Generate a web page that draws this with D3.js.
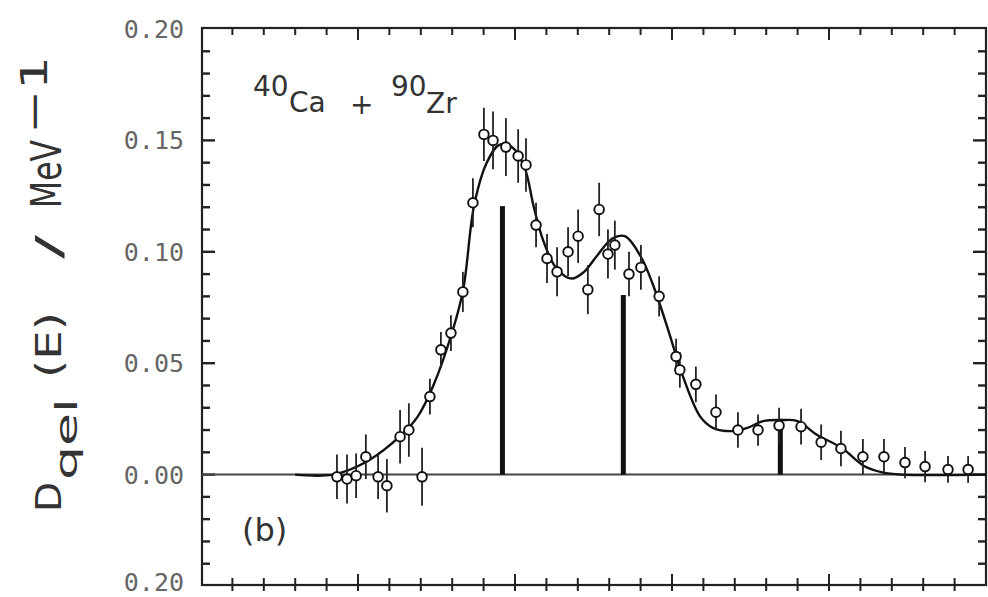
<!DOCTYPE html>
<html>
<head>
	<meta charset="utf-8">
	<title>Dqel(E) 40Ca + 90Zr</title>
	<script src="https://cdn.jsdelivr.net/npm/d3@7"></script>
	<style>
		body { margin: 0; background: #fff; }
		.tick-label { font-family: "DejaVu Sans Mono"; font-size: 25px; fill: #666; }
		.ann { font-family: "DejaVu Sans"; fill: #333; }
	</style>
</head>
<body>
<div id="chart"></div>
<script>
	// measured points: energy (MeV), Dqel, error
	var energy = [89.33, 89.65, 89.94, 90.25, 90.64, 90.92, 91.34, 91.62, 92.04, 92.29,
		92.64, 92.96, 93.34, 93.66, 94.01, 94.30, 94.71, 95.10, 95.35, 95.67,
		96.02, 96.34, 96.69, 97.01, 97.32, 97.68, 97.96, 98.18, 98.63, 99.01,
		99.59, 100.13, 100.25, 100.76, 101.40, 102.10, 102.74, 103.41, 104.11, 104.75,
		105.38, 106.08, 106.75, 107.42, 108.06, 108.79, 109.43];
	var dqel = [-0.001, -0.002, -0.0005, 0.008, -0.001, -0.005, 0.017, 0.020, -0.001, 0.035,
		0.056, 0.0635, 0.082, 0.122, 0.1527, 0.150, 0.147, 0.143, 0.139, 0.112,
		0.097, 0.091, 0.100, 0.107, 0.083, 0.119, 0.099, 0.103, 0.090, 0.093,
		0.080, 0.053, 0.047, 0.0405, 0.028, 0.020, 0.020, 0.022, 0.0215, 0.0145,
		0.0117, 0.008, 0.008, 0.0054, 0.0036, 0.0023, 0.0023];
	var dqelErr = [0.010, 0.011, 0.010, 0.010, 0.010, 0.012, 0.012, 0.012, 0.013, 0.008,
		0.008, 0.008, 0.009, 0.011, 0.012, 0.013, 0.013, 0.012, 0.012, 0.010,
		0.011, 0.011, 0.011, 0.012, 0.011, 0.012, 0.011, 0.011, 0.010, 0.010,
		0.009, 0.008, 0.008, 0.008, 0.008, 0.008, 0.007, 0.008, 0.008, 0.008,
		0.008, 0.008, 0.008, 0.007, 0.007, 0.006, 0.006];

	// calculated curve
	var fitE = [88.0, 89.2, 90.3, 91.4, 91.9, 92.4, 93.0, 93.35, 93.7, 94.1,
		94.5, 94.9, 95.3, 95.6, 95.9, 96.3, 96.8, 97.2, 97.6, 98.1,
		98.5, 99.0, 99.4, 99.9, 100.3, 100.9, 101.3, 101.9, 102.4, 102.9,
		103.5, 104.0, 104.6, 105.4, 106.1, 106.7, 107.3, 110.0];
	var fitD = [0.0, 0.0, 0.006, 0.018, 0.026, 0.040, 0.064, 0.083, 0.121, 0.140,
		0.148, 0.147, 0.138, 0.120, 0.105, 0.093, 0.088, 0.091, 0.098, 0.106,
		0.107, 0.098, 0.085, 0.064, 0.046, 0.026, 0.021, 0.0195, 0.021, 0.024,
		0.0245, 0.024, 0.018, 0.012, 0.004, 0.001, 0.0, 0.0];

	// barrier weights (sticks)
	var barE = [94.6, 98.45, 103.45];
	var barH = [0.1205, 0.0806, 0.025];

	var yTickValues = [0.20, 0.15, 0.10, 0.05, 0.00, -0.05];
	var yTickLabels = ["0.20", "0.15", "0.10", "0.05", "0.00", "0.20"];

	var w = 988, h = 597;
	var padL = 202, padR = 986, padT = 28, padB = 585;

	var svg = d3.select("#chart").append("svg")
		.attr("width", w).attr("height", h);

	var x = d3.scaleLinear().domain([85, 110]).range([padL - 1, padR]);
	var y = d3.scaleLinear().domain([-0.05, 0.20]).range([padB + 1, padT + 1]);

	var ink = "#222";

	// frame
	svg.append("rect")
		.attr("x", padL).attr("y", padT)
		.attr("width", padR - padL).attr("height", padB - padT)
		.attr("fill", "none").attr("stroke", ink).attr("stroke-width", 2.2);

	// x ticks (top and bottom), every 1 MeV, longer every 5
	var xt = d3.range(86, 110, 1);
	svg.selectAll(".xtb").data(xt).enter().append("line")
		.attr("x1", d => x(d)).attr("x2", d => x(d))
		.attr("y1", d => padB - (d % 5 == 0 ? 11 : 7)).attr("y2", padB + 6)
		.attr("stroke", ink).attr("stroke-width", 2);
	svg.selectAll(".xtt").data(xt).enter().append("line")
		.attr("x1", d => x(d)).attr("x2", d => x(d))
		.attr("y1", padT).attr("y2", d => padT + (d % 5 == 0 ? 12 : 7))
		.attr("stroke", ink).attr("stroke-width", 2);

	// y ticks (left and right), every 0.01, longer every 0.05
	var yt = d3.range(-4, 20, 1).map(d => d / 100);
	function isMajor(d) { return Math.abs(Math.round(d * 100) % 5) == 0; }
	svg.selectAll(".ytl").data(yt).enter().append("line")
		.attr("x1", padL).attr("x2", d => padL + (isMajor(d) ? 13 : 8))
		.attr("y1", d => y(d)).attr("y2", d => y(d))
		.attr("stroke", ink).attr("stroke-width", 2.4);
	svg.selectAll(".ytr").data(yt).enter().append("line")
		.attr("x1", padR).attr("x2", d => padR - (isMajor(d) ? 13 : 8))
		.attr("y1", d => y(d)).attr("y2", d => y(d))
		.attr("stroke", ink).attr("stroke-width", 2.4);

	// the lowest label is clipped by the page edge in the scan; lift it a little
	svg.selectAll(".ylab").data(yTickValues).enter().append("text")
		.attr("class", "tick-label")
		.attr("x", 184).attr("y", d => y(d) - (d < 0 ? 4 : 0))
		.attr("dy", "0.36em").attr("text-anchor", "end")
		.text((d, i) => yTickLabels[i]);

	// zero line
	svg.append("line")
		.attr("x1", padL).attr("x2", padR)
		.attr("y1", y(0)).attr("y2", y(0))
		.attr("stroke", "#444").attr("stroke-width", 2);

	// sticks
	svg.selectAll(".bar").data(barE).enter().append("rect")
		.attr("x", d => x(d) - 2.5).attr("width", 5)
		.attr("y", (d, i) => y(barH[i]))
		.attr("height", (d, i) => y(0) - y(barH[i]))
		.attr("fill", "#111");

	// fitted curve
	var line = d3.line()
		.x((d, i) => x(fitE[i]))
		.y((d, i) => y(fitD[i]))
		.curve(d3.curveCatmullRom);
	svg.append("path").datum(fitE)
		.attr("d", line)
		.attr("fill", "none").attr("stroke", "#111").attr("stroke-width", 2.4);

	// error bars
	svg.selectAll(".err").data(energy).enter().append("line")
		.attr("x1", d => x(d)).attr("x2", d => x(d))
		.attr("y1", (d, i) => y(dqel[i] + dqelErr[i]))
		.attr("y2", (d, i) => y(dqel[i] - dqelErr[i]))
		.attr("stroke", "#222").attr("stroke-width", 1.8);

	// points
	svg.selectAll(".pt").data(energy).enter().append("circle")
		.attr("cx", d => x(d)).attr("cy", (d, i) => y(dqel[i]))
		.attr("r", 4.8)
		.attr("fill", "#fff").attr("stroke", "#111").attr("stroke-width", 1.9);

	// reaction label
	var lab = svg.append("text").attr("class", "ann").attr("font-size", 28);
	lab.append("tspan").attr("x", 253).attr("y", 96).text("40");
	lab.append("tspan").attr("x", 289).attr("y", 112).text("Ca");
	lab.append("tspan").attr("x", 350).attr("y", 114).text("+");
	lab.append("tspan").attr("x", 391).attr("y", 96).text("90");
	lab.append("tspan").attr("x", 426).attr("y", 113).text("Zr");

	svg.append("text").attr("class", "ann")
		.attr("x", 242).attr("y", 541).attr("font-size", 32)
		.text("(b)");

	// y axis title, rotated
	var yl = svg.append("text").attr("class", "ann")
		.attr("transform", "translate(61,512) rotate(-90)")
		.attr("font-size", 36);
	yl.append("tspan").attr("x", 0).attr("y", 0)
		.attr("textLength", 30).attr("lengthAdjust", "spacingAndGlyphs").text("D");
	yl.append("tspan").attr("x", 32).attr("y", 16).attr("font-size", 30)
		.attr("textLength", 82).attr("lengthAdjust", "spacingAndGlyphs").text("qel");
	yl.append("tspan").attr("x", 134).attr("y", 0)
		.attr("textLength", 66).attr("lengthAdjust", "spacingAndGlyphs").text("(E)");
	yl.append("tspan").attr("x", 253).attr("y", 0)
		.attr("textLength", 24).attr("lengthAdjust", "spacingAndGlyphs").text("/");
	yl.append("tspan").attr("x", 304).attr("y", 0).attr("font-size", 42)
		.attr("textLength", 68).attr("lengthAdjust", "spacingAndGlyphs").text("MeV");
	yl.append("tspan").attr("x", 378).attr("y", -14).attr("font-size", 38)
		.attr("textLength", 78).attr("lengthAdjust", "spacingAndGlyphs").text("\u22121");
</script>
</body>
</html>
